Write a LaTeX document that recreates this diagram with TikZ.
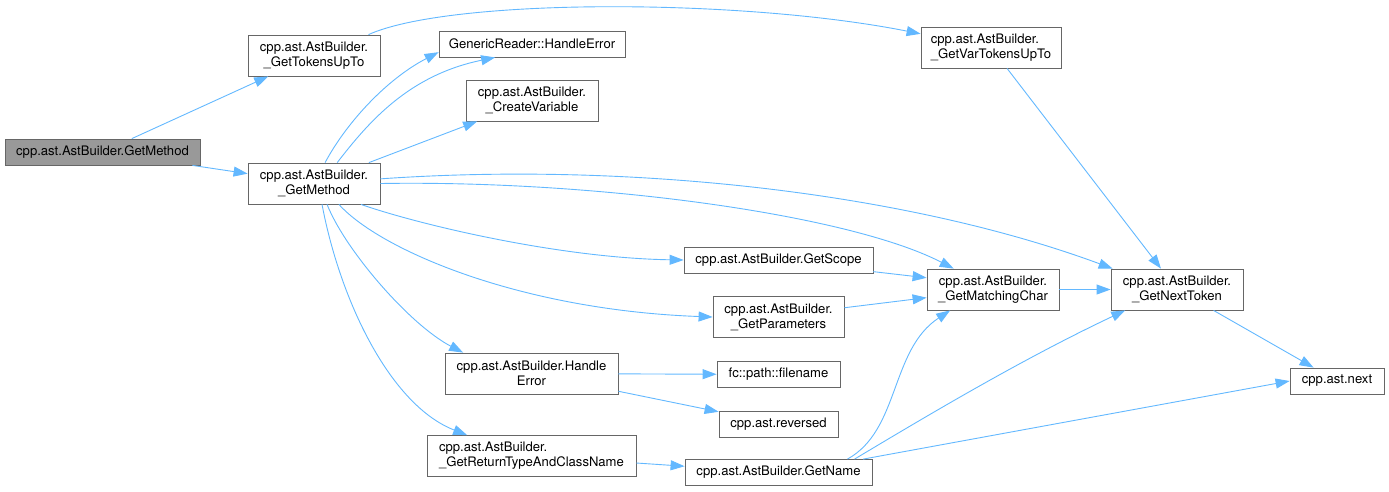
\documentclass[tikz,border=0pt]{standalone}
\usepackage{fontspec}
\setmainfont{TeX Gyre Heros}
\usetikzlibrary{arrows.meta}

\definecolor{callblue}{HTML}{63B8FF}
\definecolor{boxline}{HTML}{666666}
\definecolor{rootgray}{HTML}{999999}

\tikzset{
  fn/.style={draw=boxline, line width=0.8pt, fill=white, inner xsep=4pt, inner ysep=0pt,
    minimum height=26pt, font=\fontsize{13.1}{15}\selectfont, align=center},
  fntwo/.style={fn, minimum height=41pt},
  fnroot/.style={fn, fill=rootgray},
  call/.style={draw=callblue, line width=0.9pt, -{Triangle[length=14pt,width=10pt]}},
}

\begin{document}
\begin{tikzpicture}[x=1pt, y=-1pt]
\useasboundingbox (0,0) rectangle (1389,491);

% Functions
\node[fnroot, minimum width=195pt] (root) at (102.5,152) {cpp.ast.AstBuilder.GetMethod};
\node[fntwo, minimum width=132pt] (gtu) at (314,55.5) {cpp.ast.AstBuilder.\\\_GetTokensUpTo};
\node[fntwo, minimum width=132pt] (gm) at (314,183.5) {cpp.ast.AstBuilder.\\\_GetMethod};
\node[fn, minimum width=186pt] (grhe) at (532,44) {GenericReader::HandleError};
\node[fntwo, minimum width=132pt] (cv) at (532,100.5) {cpp.ast.AstBuilder.\\\_CreateVariable};
\node[fntwo, minimum width=140pt, align=left] (gvtu) at (991,47.5) {cpp.ast.AstBuilder.\\\_GetVarTokensUpTo};
\node[fn, minimum width=189pt] (gscope) at (778.5,260) {cpp.ast.AstBuilder.GetScope};
\node[fntwo, minimum width=131pt] (gparam) at (778.5,317) {cpp.ast.AstBuilder.\\\_GetParameters};
\node[fntwo, minimum width=173pt] (abhe) at (531.5,373.5) {cpp.ast.AstBuilder.Handle\\Error};
\node[fn, minimum width=123pt] (fname) at (778.5,374.5) {fc::path::filename};
\node[fn, minimum width=119pt] (rev) at (778.5,424) {cpp.ast.reversed};
\node[fntwo, minimum width=209pt, align=left] (grtacn) at (531.5,456) {cpp.ast.AstBuilder.\\\_GetReturnTypeAndClassName};
\node[fn, minimum width=187pt] (gname) at (778.5,472.5) {cpp.ast.AstBuilder.GetName};
\node[fntwo, minimum width=132pt] (gmc) at (993,289.5) {cpp.ast.AstBuilder.\\\_GetMatchingChar};
\node[fntwo, minimum width=132pt] (gnt) at (1177,289.5) {cpp.ast.AstBuilder.\\\_GetNextToken};
\node[fn, minimum width=94pt] (next) at (1337,381) {cpp.ast.next};

% Calls
\draw[call] (root) -- (gtu);
\draw[call] (root) -- (gm);
\draw[call] (gtu.21) .. controls (450,-2) and (740,-2) .. (gvtu.169);
\draw[call] (gm.62) .. controls (345,125) and (385,80) .. (grhe.185);
\draw[call] (gm.42) .. controls (370,120) and (410,75) .. (grhe.200);
\draw[call] (gm) -- (cv);
\draw[call] (gm.4) .. controls (620,162) and (900,190) .. (gnt.162);
\draw[call] (gm.east) .. controls (600,180) and (850,215) .. (gmc.152);
\draw[call] (gm.-24) .. controls (420,225) and (560,258) .. (gscope.west);
\draw[call] (gm.-40) .. controls (380,250) and (520,310) .. (gparam.west);
\draw[call] (gm.-58) .. controls (345,250) and (410,325) .. (abhe.163);
\draw[call] (gm.-69) .. controls (340,300) and (390,405) .. (grtacn.162);
\draw[call] (abhe) -- (fname);
\draw[call] (abhe) -- (rev);
\draw[call] (grtacn) -- (gname);
\draw[call] (gscope.-7) -- (gmc.170);
\draw[call] (gparam.8) -- (gmc.187);
\draw[call] (gmc) -- (gnt);
\draw[call] (gvtu) -- (gnt);
\draw[call] (gnt) -- (next);
\draw[call] (gname.11) .. controls (900,430) and (890,350) .. (gmc.206);
\draw[call] (gname.10) .. controls (920,420) and (1020,360) .. (gnt.202);
\draw[call] (gname.9) -- (next.west);

\end{tikzpicture}
\end{document}
